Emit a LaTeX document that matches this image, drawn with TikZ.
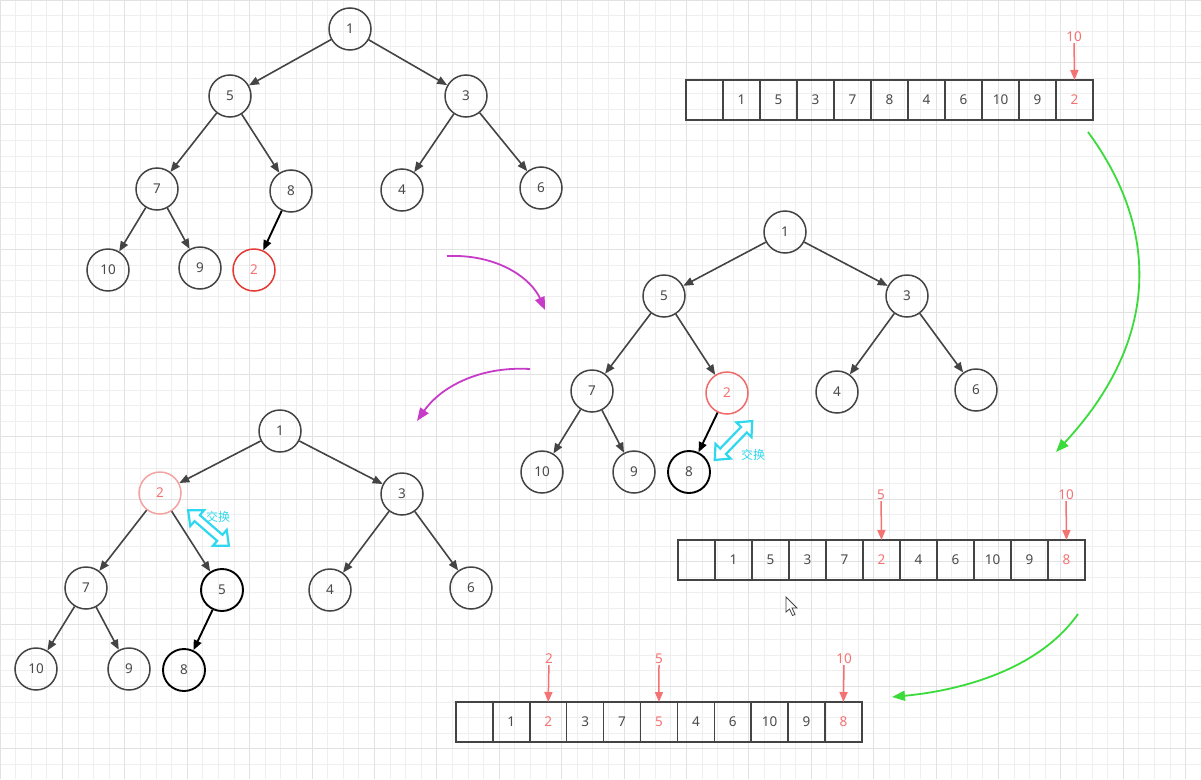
\documentclass[tikz,border=0pt]{standalone}
\usepackage{fontspec}
\setmainfont{Noto Sans}
\newfontfamily\cjk{Noto Sans CJK SC}
\usetikzlibrary{arrows.meta}
\definecolor{gmin}{HTML}{EFEFEF}
\definecolor{gmaj}{HTML}{E2E2E2}
\definecolor{ndcol}{HTML}{444444}
\definecolor{txt}{HTML}{4A4A4A}
\definecolor{redA}{HTML}{E53935}
\definecolor{redB}{HTML}{F06A6A}
\definecolor{redC}{HTML}{F4A3A3}
\definecolor{salmon}{HTML}{F57272}
\definecolor{cyanA}{HTML}{2FD8EE}
\definecolor{greenA}{HTML}{3BDB3B}
\definecolor{magA}{HTML}{C63CC8}
\tikzset{
  nd/.style={circle, draw=ndcol, line width=1.5pt, minimum size=42pt, inner sep=0pt, text=txt, font=\fontsize{13.5}{15}\selectfont},
  bnd/.style={nd, draw=black, line width=1.9pt},
  ed/.style={draw=ndcol, line width=1.6pt, -{Triangle[length=10pt,width=8pt]}},
  bed/.style={draw=black, line width=1.9pt, -{Triangle[length=10pt,width=8pt]}},
  cell/.style={rectangle, draw=ndcol, line width=1.5pt, minimum width=37pt, minimum height=40pt, inner sep=0pt, outer sep=0pt, text=txt, font=\fontsize{13.5}{15}\selectfont},
  plab/.style={text=salmon, font=\fontsize{13.5}{15}\selectfont, inner sep=1pt},
  ptr/.style={draw=salmon, line width=1.5pt, -{Triangle[length=10pt,width=8pt]}},
  curveG/.style={draw=greenA, line width=1.8pt, -{Triangle[length=13pt,width=10pt]}},
  curveM/.style={draw=magA, line width=1.8pt, -{Triangle[length=13pt,width=10pt]}},
  swp/.style={draw=cyanA, line width=2.2pt, fill=white},
  swl/.style={text=cyanA, font=\cjk\fontsize{12}{14}\selectfont, inner sep=0pt}
}
\begin{document}
\begin{tikzpicture}[x=1pt,y=-1pt]
\useasboundingbox (0,0) rectangle (1201,779);
\fill[white] (0,0) rectangle (1201,779);
% grid
\foreach \i in {0,...,77} { \draw[gmin, line width=0.8pt] (\i*15.6,0) -- (\i*15.6,779); }
\foreach \i in {0,...,50} { \draw[gmin, line width=0.8pt] (0,\i*15.6) -- (1201,\i*15.6); }
\foreach \i in {0,4,...,76} { \draw[gmaj, line width=0.9pt] (\i*15.6,0) -- (\i*15.6,779); }
\foreach \i in {0,4,...,48} { \draw[gmaj, line width=0.9pt] (0,\i*15.6) -- (1201,\i*15.6); }

% ---------- Tree 1 ----------
\node[nd] (t1a) at (350,29) {1};
\node[nd] (t1b) at (230,96) {5};
\node[nd] (t1c) at (466,96) {3};
\node[nd] (t1d) at (157,189) {7};
\node[nd] (t1e) at (291,191) {8};
\node[nd] (t1f) at (402,190) {4};
\node[nd] (t1g) at (541,188) {6};
\node[nd] (t1h) at (108,270) {10};
\node[nd] (t1i) at (200,268) {9};
\node[nd, draw=redA, text=salmon] (t1j) at (254,270) {2};
\draw[ed] (t1a) -- (t1b);
\draw[ed] (t1a) -- (t1c);
\draw[ed] (t1b) -- (t1d);
\draw[ed] (t1b) -- (t1e);
\draw[ed] (t1c) -- (t1f);
\draw[ed] (t1c) -- (t1g);
\draw[ed] (t1d) -- (t1h);
\draw[ed] (t1d) -- (t1i);
\draw[bed] (t1e) -- (t1j);

% ---------- Tree 2 ----------
\node[nd] (t2a) at (785,232) {1};
\node[nd] (t2b) at (664,296) {5};
\node[nd] (t2c) at (907,296) {3};
\node[nd] (t2d) at (592,391) {7};
\node[nd, draw=redB, text=salmon] (t2e) at (727,393) {2};
\node[nd] (t2f) at (837,392) {4};
\node[nd] (t2g) at (976,390) {6};
\node[nd] (t2h) at (542,472) {10};
\node[nd] (t2i) at (634,472) {9};
\node[bnd] (t2j) at (689,472) {8};
\draw[ed] (t2a) -- (t2b);
\draw[ed] (t2a) -- (t2c);
\draw[ed] (t2b) -- (t2d);
\draw[ed] (t2b) -- (t2e);
\draw[ed] (t2c) -- (t2f);
\draw[ed] (t2c) -- (t2g);
\draw[ed] (t2d) -- (t2h);
\draw[ed] (t2d) -- (t2i);
\draw[bed] (t2e) -- (t2j);
\begin{scope}[shift={(733.5,440.5)}, rotate=46]
\draw[swp] (-27,0) -- (-15,10.5) -- (-15,4) -- (15,4) -- (15,10.5) -- (27,0) -- (15,-10.5) -- (15,-4) -- (-15,-4) -- (-15,-10.5) -- cycle;
\end{scope}
\node[swl, anchor=west] (sw2) at (741,455) {交换};

% ---------- Tree 3 ----------
\node[nd] (t3a) at (280,431) {1};
\node[nd, draw=redC, text=salmon] (t3b) at (160,493) {2};
\node[nd] (t3c) at (402,494) {3};
\node[nd] (t3d) at (86,588) {7};
\node[bnd] (t3e) at (222,590) {5};
\node[nd] (t3f) at (330,590) {4};
\node[nd] (t3g) at (471,588) {6};
\node[nd] (t3h) at (36,669) {10};
\node[nd] (t3i) at (129,669) {9};
\node[bnd] (t3j) at (184,670) {8};
\draw[ed] (t3a) -- (t3b);
\draw[ed] (t3a) -- (t3c);
\draw[ed] (t3b) -- (t3d);
\draw[ed] (t3b) -- (t3e);
\draw[ed] (t3c) -- (t3f);
\draw[ed] (t3c) -- (t3g);
\draw[ed] (t3d) -- (t3h);
\draw[ed] (t3d) -- (t3i);
\draw[bed] (t3e) -- (t3j);
\begin{scope}[shift={(208.5,528)}, rotate=-41]
\draw[swp] (-27,0) -- (-15,10.5) -- (-15,4) -- (15,4) -- (15,10.5) -- (27,0) -- (15,-10.5) -- (15,-4) -- (-15,-4) -- (-15,-10.5) -- cycle;
\end{scope}
\node[swl, anchor=west] (sw3) at (206,517) {交换};

% ---------- Array 1 ----------
\foreach \v/\c [count=\k from 0] in {{}/txt,1/txt,5/txt,3/txt,7/txt,8/txt,4/txt,6/txt,10/txt,9/txt,2/salmon} {
  \node[cell, text=\c] (a1c\k) at (686+37*\k+18.5,100) {\v};
}
\node[plab] (a1p) at (1074,37) {10};
\draw[ptr] (a1p) -- (a1c10.north);

% ---------- Array 2 ----------
\foreach \v/\c [count=\k from 0] in {{}/txt,1/txt,5/txt,3/txt,7/txt,2/salmon,4/txt,6/txt,10/txt,9/txt,8/salmon} {
  \node[cell, text=\c] (a2c\k) at (678+37*\k+18.5,560) {\v};
}
\node[plab] (a2p5) at (881,495) {5};
\node[plab] (a2p10) at (1066,495) {10};
\draw[ptr] (a2p5) -- (a2c5.north);
\draw[ptr] (a2p10) -- (a2c10.north);

% ---------- Array 3 ----------
\foreach \v/\c [count=\k from 0] in {{}/txt,1/txt,2/salmon,3/txt,7/txt,5/salmon,4/txt,6/txt,10/txt,9/txt,8/salmon} {
  \node[cell, text=\c, minimum width=36.9pt] (a3c\k) at (456+36.9*\k+18.45,722) {\v};
}
\node[plab] (a3p2) at (549,659) {2};
\node[plab] (a3p5) at (659,659) {5};
\node[plab] (a3p10) at (844,659) {10};
\draw[ptr] (a3p2) -- (a3c2.north);
\draw[ptr] (a3p5) -- (a3c5.north);
\draw[ptr] (a3p10) -- (a3c10.north);

% ---------- curved arrows ----------
\coordinate (g1s) at (1088,132);
\coordinate (g1e) at (1056,452);
\draw[curveG] (g1s) .. controls (1160,230) and (1160,340) .. (g1e);
\coordinate (g2s) at (1078,614);
\coordinate (g2e) at (892,697);
\draw[curveG] (g2s) .. controls (1040,668) and (965,690) .. (g2e);
\coordinate (m1s) at (447,256);
\coordinate (m1e) at (545,310);
\draw[curveM] (m1s) .. controls (500,254) and (532,280) .. (m1e);
\coordinate (m2s) at (530,369);
\coordinate (m2e) at (417,421);
\draw[curveM] (m2s) .. controls (478,366) and (440,388) .. (m2e);

% cursor
\draw[fill=white, draw=ndcol, line width=0.8pt] (786,597) -- (786,612) -- (789.5,609) -- (792.5,615.5) -- (795,614.5) -- (792,608) -- (797,608) -- cycle;
\end{tikzpicture}
\end{document}
